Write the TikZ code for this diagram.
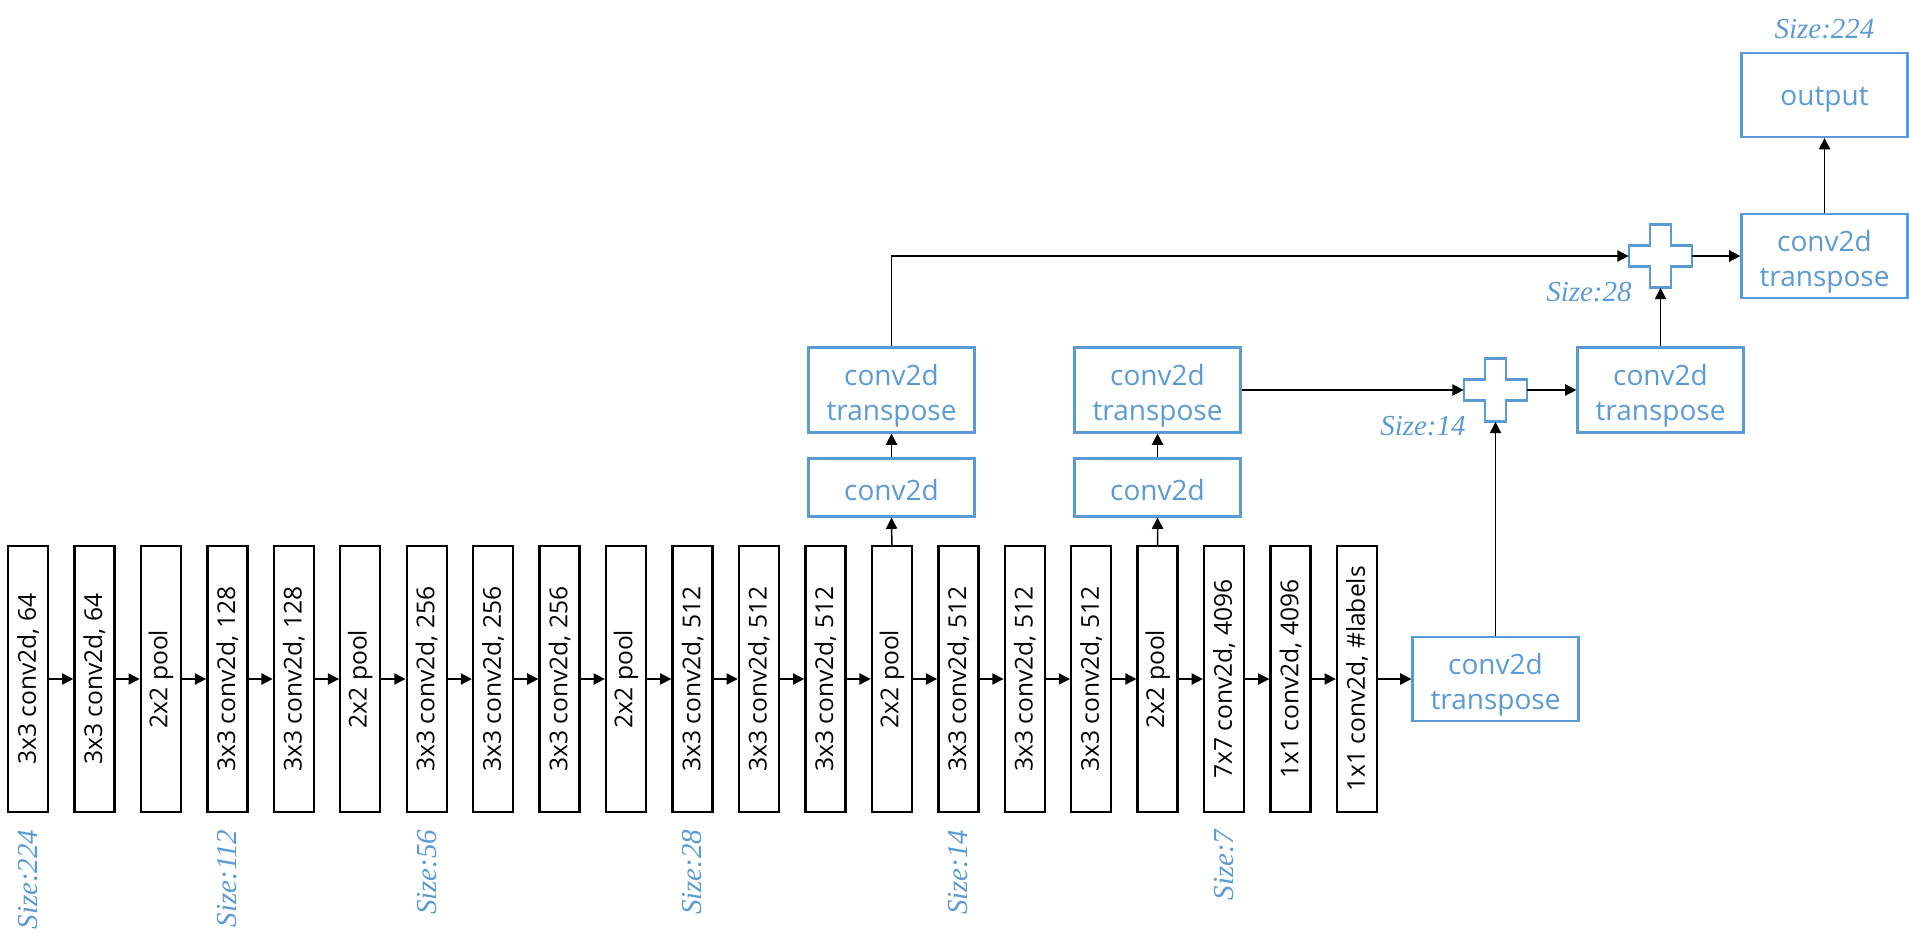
\documentclass[tikz,border=0pt]{standalone}
\usepackage{graphicx}
\usepackage{fontspec}
\usetikzlibrary{arrows.meta}
\newfontfamily\boxfont{Open Sans}
\newfontfamily\lblfont{Liberation Serif}
\definecolor{nblue}{HTML}{5B9BD5}
\newcommand\dnshift[2]{\raisebox{-#1}[\height][\depth]{#2}}
\newcommand\twoline[2]{\dnshift{3pt}{\begin{tabular}{@{}c@{}}#1\\#2\end{tabular}}}
\begin{document}
\begin{tikzpicture}[x=0.5pt,y=-0.5pt,
  layer/.style={draw=black, line width=1.2pt, minimum width=20pt, minimum height=133pt, inner sep=0pt, font=\boxfont\fontsize{12.3}{14}\selectfont},
  bluebox/.style={draw=nblue, line width=1.1pt, text=nblue, minimum width=83pt, align=center, inner sep=0pt, font=\boxfont\fontsize{14}{17.5}\selectfont},
  arr/.style={line width=0.75pt, -{Triangle[length=5.6pt,width=5.6pt]}},
  sizelbl/.style={text=nblue, inner sep=0pt, font=\lblfont\itshape\fontsize{14.5}{17}\selectfont},
  plusnode/.style={minimum size=31.5pt, inner sep=0pt, draw=none},
  crossline/.style={draw=nblue, line width=1.1pt, fill=white}
]
\useasboundingbox (0,0) rectangle (1909,947);
% encoder layers
\foreach \i/\t in {1/{3x3 conv2d, 64}, 2/{3x3 conv2d, 64}, 3/{2x2 pool},
  4/{3x3 conv2d, 128}, 5/{3x3 conv2d, 128}, 6/{2x2 pool},
  7/{3x3 conv2d, 256}, 8/{3x3 conv2d, 256}, 9/{3x3 conv2d, 256}, 10/{2x2 pool},
  11/{3x3 conv2d, 512}, 12/{3x3 conv2d, 512}, 13/{3x3 conv2d, 512}, 14/{2x2 pool},
  15/{3x3 conv2d, 512}, 16/{3x3 conv2d, 512}, 17/{3x3 conv2d, 512}, 18/{2x2 pool},
  19/{7x7 conv2d, 4096}, 20/{1x1 conv2d, 4096}, 21/{1x1 conv2d, \#labels}}
  \node[layer] (b\i) at ({28+(\i-1)*66.45},679) {\rotatebox{90}{\t}};
\foreach \i [evaluate=\i as \j using int(\i+1)] in {1,...,20}
  \draw[arr] (b\i.east) -- (b\j.west);
\foreach \i/\s in {1/224,4/112,7/56,11/28,15/14,19/7}
  \node[sizelbl, rotate=90, anchor=east] at ([yshift=-8pt]b\i.south) {Size:\s};
% decoder
\node[bluebox, minimum height=29pt] (c1) at (891.5,487.5) {\dnshift{1pt}{conv2d}};
\node[bluebox, minimum height=42.5pt] (t1) at (891.5,390) {\twoline{conv2d}{transpose}};
\node[bluebox, minimum height=29pt] (c2) at (1157.5,487.5) {\dnshift{1pt}{conv2d}};
\node[bluebox, minimum height=42.5pt] (t2) at (1157.5,390) {\twoline{conv2d}{transpose}};
\node[bluebox, minimum height=42pt] (t3) at (1495.5,679) {\twoline{conv2d}{transpose}};
\node[bluebox, minimum height=42.5pt] (t4) at (1660.5,390) {\twoline{conv2d}{transpose}};
\node[bluebox, minimum height=42pt] (t5) at (1824.5,256) {\twoline{conv2d}{transpose}};
\node[bluebox, minimum height=42pt] (out) at (1824.5,95) {\dnshift{2.5pt}{output}};
\node[sizelbl, anchor=base] (s224) at (1824.5,39) {Size:224};
\node[plusnode] (p1) at (1495.5,390) {};
\node[plusnode] (p2) at (1660.5,256) {};
\foreach \p in {p1,p2}
  \draw[crossline, shift={(\p.center)}] (-31.5,-10.5) -- (-10.5,-10.5) -- (-10.5,-31.5) -- (10.5,-31.5) -- (10.5,-10.5) -- (31.5,-10.5) -- (31.5,10.5) -- (10.5,10.5) -- (10.5,31.5) -- (-10.5,31.5) -- (-10.5,10.5) -- (-31.5,10.5) -- cycle;
\node[sizelbl, anchor=base east] (s14) at (1466,435) {Size:14};
\node[sizelbl, anchor=base east] (s28) at (1632,301) {Size:28};
% connectors
\draw[arr] (b14.north) -- (c1.south);
\draw[arr] (c1.north) -- (t1.south);
\draw[arr] (b18.north) -- (c2.south);
\draw[arr] (c2.north) -- (t2.south);
\draw[arr] (b21.east) -- (t3.west);
\draw[arr] (t1.north) |- (p2.west);
\draw[arr] (t2.east) -- (p1.west);
\draw[arr] (t3.north) -- (p1.south);
\draw[arr] (p1.east) -- (t4.west);
\draw[arr] (t4.north) -- (p2.south);
\draw[arr] (p2.east) -- (t5.west);
\draw[arr] (t5.north) -- (out.south);
\end{tikzpicture}
\end{document}
